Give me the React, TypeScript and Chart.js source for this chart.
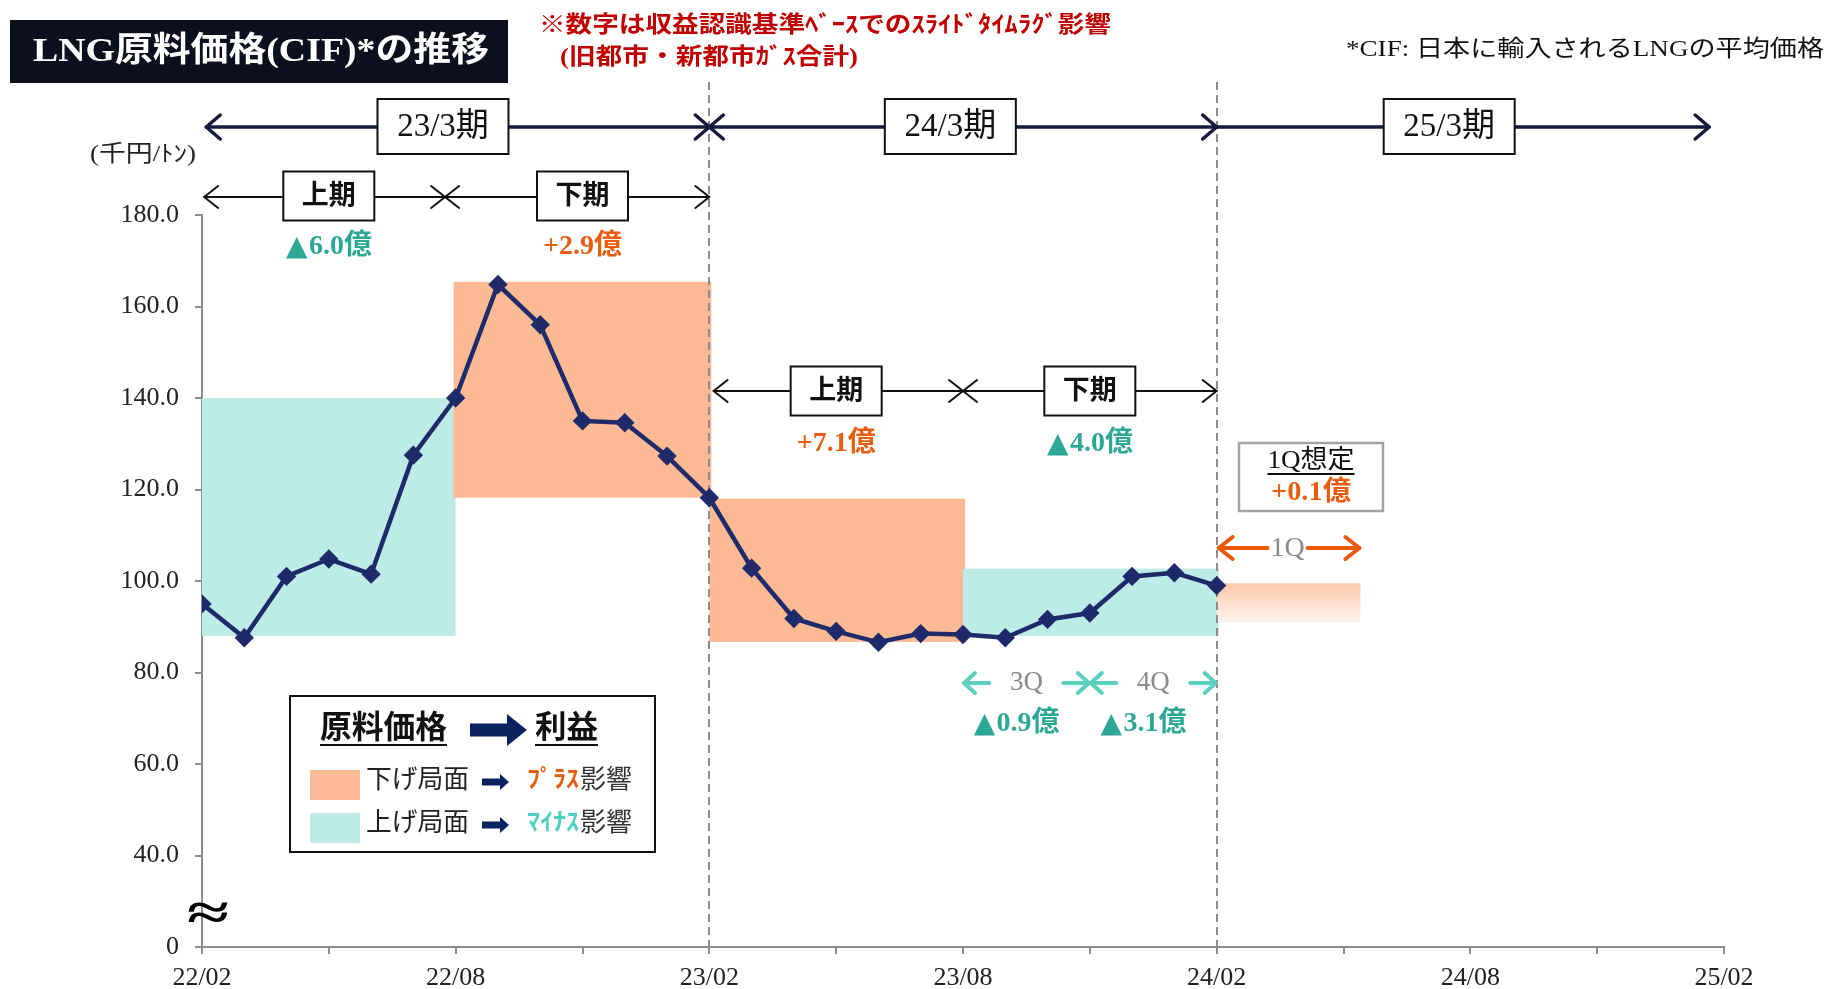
import React, { useEffect, useRef } from 'react';
import { Chart, registerables } from 'chart.js';

Chart.register(...registerables);

// ---- data ----
const monthLabels = ['22/02','22/03','22/04','22/05','22/06','22/07','22/08','22/09','22/10','22/11','22/12','23/01','23/02','23/03','23/04','23/05','23/06','23/07','23/08','23/09','23/10','23/11','23/12','24/01','24/02'];
const prices = [95.0, 87.6, 101.0, 104.8, 101.5, 127.5, 140.0, 164.8, 156.0, 135.0, 134.6, 127.3, 118.2, 102.8, 91.8, 89.0, 86.6, 88.5, 88.3, 87.6, 91.6, 93.0, 101.0, 101.8, 99.0];
const xTickLabels = ['22/02','22/08','23/02','23/08','24/02','24/08','25/02'];

// slide time-lag shading (month index from 22/02)
const shadeFrom = [0, 5.95, 12, 18];
const shadeTo = [5.95, 12, 18, 24];
const shadeLow = [88.0, 118.2, 86.7, 88.0];
const shadeHigh = [140.0, 165.4, 118.0, 102.7];
const shadeKind = ['up', 'down', 'down', 'up'];
const forecastFrom = 24;
const forecastTo = 27.4;
const forecastLow = 91.0;
const forecastHigh = 99.5;

const fiscalLabels = ['23/3期', '24/3期', '25/3期'];
const fiscalFrom = [0.1, 12, 24];
const fiscalTo = [12, 24, 35.65];
const fiscalBoxCenter = [5.7, 17.7, 29.5];
const fiscalDividers = [12, 24];

const halfLabels = ['上期', '下期', '上期', '下期'];
const halfFrom = [0.05, 5.75, 12.1, 18.0];
const halfTo = [5.75, 12.0, 18.0, 24.0];
const halfCenter = [3, 9, 15, 21];
const halfImpact = ['▲6.0億', '+2.9億', '+7.1億', '▲4.0億'];

const quarterLabels = ['3Q', '4Q'];
const quarterFrom = [18, 21];
const quarterTo = [21, 24];
const quarterImpact = ['▲0.9億', '▲3.1億'];

const forecastLabel = '1Q';
const forecastImpact = '+0.1億';

// ---- styles ----
const NAVY = '#1f2a6b';
const TEAL_FILL = '#bdebe5';
const ORANGE_FILL = '#fbb994';
const TEAL_TXT = '#2ea896';
const ORANGE_TXT = '#e85d0e';
const TEAL_ARROW = '#5ccfbe';
const F = (size: number, weight = 'normal') => `${weight} ${size}px "Liberation Serif", "Noto Sans CJK JP", serif`;

function txt(ctx: CanvasRenderingContext2D, s: string, x: number, y: number, font: string, color: string, align: CanvasTextAlign = 'center', fitW?: number) {
  ctx.save();
  ctx.font = font;
  ctx.fillStyle = color;
  ctx.textBaseline = 'middle';
  const w = ctx.measureText(s).width;
  const sx = fitW ? fitW / w : 1;
  ctx.translate(x, y);
  ctx.scale(sx, 1);
  ctx.textAlign = align;
  ctx.fillText(s, 0, 0);
  ctx.restore();
  return w * sx;
}

// impact value: tight triangle glyph + number (both as text)
function impact(ctx: CanvasRenderingContext2D, s: string, cx: number, cy: number, size: number) {
  const neg = s.startsWith('▲');
  const color = neg ? TEAL_TXT : ORANGE_TXT;
  const rest = neg ? s.slice(1) : s;
  ctx.save();
  ctx.font = F(size, 'bold');
  const rw = ctx.measureText(rest).width;
  ctx.restore();
  const triW = neg ? size * 0.8 : 0;
  const gap = neg ? 1 : 0;
  const total = triW + gap + rw;
  const x0 = cx - total / 2;
  if (neg) {
    txt(ctx, '▲', x0 + triW / 2, cy + 1, `bold ${size}px "DejaVu Sans", "Noto Sans CJK JP", sans-serif`, color, 'center');
  }
  txt(ctx, rest, x0 + triW + gap, cy, F(size, 'bold'), color, 'left');
}

function head(ctx: CanvasRenderingContext2D, x: number, y: number, dir: number, len: number, half: number) {
  ctx.beginPath();
  ctx.moveTo(x - dir * len, y - half);
  ctx.lineTo(x, y);
  ctx.lineTo(x - dir * len, y + half);
  ctx.stroke();
}

function arrowLine(ctx: CanvasRenderingContext2D, x1: number, x2: number, y: number, color: string, lw: number, len: number, half: number, left = true, right = true, gapC?: number, gapHalf?: number) {
  ctx.save();
  ctx.strokeStyle = color;
  ctx.lineWidth = lw;
  ctx.lineCap = 'round';
  ctx.lineJoin = 'round';
  ctx.beginPath();
  if (gapC !== undefined && gapHalf !== undefined) {
    ctx.moveTo(x1, y); ctx.lineTo(gapC - gapHalf, y);
    ctx.moveTo(gapC + gapHalf, y); ctx.lineTo(x2, y);
  } else {
    ctx.moveTo(x1, y); ctx.lineTo(x2, y);
  }
  ctx.stroke();
  if (left) head(ctx, x1, y, -1, len, half);
  if (right) head(ctx, x2, y, 1, len, half);
  ctx.restore();
}

function boxText(ctx: CanvasRenderingContext2D, cx: number, cy: number, w: number, h: number, s: string, font: string, lw = 2, border = '#111') {
  ctx.save();
  ctx.fillStyle = '#fff';
  ctx.fillRect(cx - w / 2, cy - h / 2, w, h);
  ctx.strokeStyle = border;
  ctx.lineWidth = lw;
  ctx.strokeRect(cx - w / 2, cy - h / 2, w, h);
  ctx.restore();
  txt(ctx, s, cx, cy + 1, font, '#111');
}

function underline(ctx: CanvasRenderingContext2D, x1: number, x2: number, y: number, color: string, lw = 2) {
  ctx.save();
  ctx.strokeStyle = color;
  ctx.lineWidth = lw;
  ctx.beginPath(); ctx.moveTo(x1, y); ctx.lineTo(x2, y); ctx.stroke();
  ctx.restore();
}

function blockArrow(ctx: CanvasRenderingContext2D, x1: number, x2: number, cy: number, shaft: number, headH: number, headL: number, color: string) {
  ctx.save();
  ctx.fillStyle = color;
  ctx.beginPath();
  ctx.moveTo(x1, cy - shaft / 2);
  ctx.lineTo(x2 - headL, cy - shaft / 2);
  ctx.lineTo(x2 - headL, cy - headH / 2);
  ctx.lineTo(x2, cy);
  ctx.lineTo(x2 - headL, cy + headH / 2);
  ctx.lineTo(x2 - headL, cy + shaft / 2);
  ctx.lineTo(x1, cy + shaft / 2);
  ctx.closePath();
  ctx.fill();
  ctx.restore();
}

const annotations = {
  id: 'slideAnnotations',
  beforeDatasetsDraw(chart: any) {
    const ctx: CanvasRenderingContext2D = chart.ctx;
    const xs = chart.scales.x;
    const ys = chart.scales.y;
    ctx.save();
    for (let i = 0; i < shadeFrom.length; i++) {
      const x1 = xs.getPixelForValue(shadeFrom[i]);
      const x2 = xs.getPixelForValue(shadeTo[i]);
      const y1 = ys.getPixelForValue(shadeHigh[i]);
      const y2 = ys.getPixelForValue(shadeLow[i]);
      ctx.fillStyle = shadeKind[i] === 'up' ? TEAL_FILL : ORANGE_FILL;
      ctx.fillRect(x1, y1, x2 - x1 + 2, y2 - y1);
    }
    const fx1 = xs.getPixelForValue(forecastFrom);
    const fx2 = xs.getPixelForValue(forecastTo);
    const fy1 = ys.getPixelForValue(forecastHigh);
    const fy2 = ys.getPixelForValue(forecastLow);
    const g = ctx.createLinearGradient(0, fy1, 0, fy2);
    g.addColorStop(0, '#fcc9ab');
    g.addColorStop(1, '#fff3ec');
    ctx.fillStyle = g;
    ctx.fillRect(fx1, fy1, fx2 - fx1, fy2 - fy1);

    // dashed period dividers
    ctx.strokeStyle = '#8c8c8c';
    ctx.lineWidth = 2;
    ctx.setLineDash([8, 5]);
    for (const d of fiscalDividers) {
      const x = Math.round(xs.getPixelForValue(d));
      ctx.beginPath();
      ctx.moveTo(x, 82);
      ctx.lineTo(x, ys.bottom);
      ctx.stroke();
    }
    ctx.setLineDash([]);
    ctx.restore();
  },
  afterDatasetsDraw(chart: any) {
    const ctx: CanvasRenderingContext2D = chart.ctx;
    const xs = chart.scales.x;
    const px = (v: number) => xs.getPixelForValue(v);

    // title
    ctx.save();
    ctx.fillStyle = '#0c0f1e';
    ctx.fillRect(10, 20, 498, 63);
    ctx.restore();
    txt(ctx, 'LNG原料価格(CIF)*の推移', 261, 52, F(34, 'bold'), '#ffffff', 'center', 456);

    // red notes
    txt(ctx, '※数字は収益認識基準ﾍﾞｰｽでのｽﾗｲﾄﾞﾀｲﾑﾗｸﾞ影響', 539, 26, F(23, 'bold'), '#c00000', 'left', 572);
    txt(ctx, '(旧都市・新都市ｶﾞｽ合計)', 560, 58, F(23, 'bold'), '#c00000', 'left', 298);
    txt(ctx, '*CIF: 日本に輸入されるLNGの平均価格', 1824, 50, F(23), '#111', 'right', 478);
    txt(ctx, '(千円/ﾄﾝ)', 90, 155, F(23), '#222', 'left', 106);

    // fiscal year arrows
    for (let i = 0; i < fiscalLabels.length; i++) {
      arrowLine(ctx, px(fiscalFrom[i]), px(fiscalTo[i]), 127, '#161b3d', 3.5, 14, 12, i === 0 || i === 1, true);
    }
    for (let i = 0; i < fiscalLabels.length; i++) {
      boxText(ctx, px(fiscalBoxCenter[i]), 126.5, 131, 55, fiscalLabels[i], F(33));
    }

    // half-year arrows
    for (let i = 0; i < halfLabels.length; i++) {
      const y = i < 2 ? 197 : 391;
      arrowLine(ctx, px(halfFrom[i]), px(halfTo[i]), y, '#111', 2, 14, 11);
    }
    for (let i = 0; i < halfLabels.length; i++) {
      const y = i < 2 ? 196 : 391;
      boxText(ctx, px(halfCenter[i]), y, 91, 49, halfLabels[i], F(27, 'bold'));
      const vy = i < 2 ? 247 : 444;
      impact(ctx, halfImpact[i], px(halfCenter[i]), vy, 28);
    }

    // quarter arrows
    for (let i = 0; i < quarterLabels.length; i++) {
      const a = px(quarterFrom[i]);
      const b = px(quarterTo[i]);
      const c = (a + b) / 2;
      arrowLine(ctx, a + 1, b - 1, 683, TEAL_ARROW, 4, 11, 10, true, true, c, 37);
      txt(ctx, quarterLabels[i], c, 683, F(27), '#8a8a8a');
      impact(ctx, quarterImpact[i], c - 10, 724, 28);
    }

    // forecast 1Q
    const f1 = px(forecastFrom);
    const f2 = px(forecastTo);
    const fc = (f1 + f2) / 2;
    arrowLine(ctx, f1 + 2, f2 - 1, 548, '#e8590c', 4, 14, 11, true, true, fc - 1, 20);
    txt(ctx, forecastLabel, fc - 1, 549, F(28), '#8a8a8a');
    ctx.save();
    ctx.fillStyle = '#fff';
    ctx.fillRect(1239, 443, 144, 68);
    ctx.strokeStyle = '#a3a3a3';
    ctx.lineWidth = 2.5;
    ctx.strokeRect(1239, 443, 144, 68);
    ctx.restore();
    const w1 = txt(ctx, '1Q想定', 1311, 461, F(26), '#111', 'center', 87);
    underline(ctx, 1311 - w1 / 2, 1311 + w1 / 2, 474, '#111', 1.8);
    txt(ctx, forecastImpact, 1311, 493, F(27, 'bold'), ORANGE_TXT, 'center', 80);

    // axis break mark
    txt(ctx, '≈', 208, 916, F(50, 'bold'), '#000', 'center', 42);

    // legend
    ctx.save();
    ctx.fillStyle = '#fff';
    ctx.fillRect(290, 696, 365, 156);
    ctx.strokeStyle = '#111';
    ctx.lineWidth = 2;
    ctx.strokeRect(290, 696, 365, 156);
    ctx.restore();
    const lw1 = txt(ctx, '原料価格', 320, 730, F(32, 'bold'), '#111', 'left', 127);
    underline(ctx, 320, 320 + lw1, 745, '#111', 2);
    blockArrow(ctx, 470, 527, 730, 13, 32, 20, '#0b2260');
    const lw2 = txt(ctx, '利益', 535, 730, F(32, 'bold'), '#111', 'left', 63);
    underline(ctx, 535, 535 + lw2, 745, '#111', 2);

    ctx.save();
    ctx.fillStyle = ORANGE_FILL;
    ctx.fillRect(310, 770, 50, 30);
    ctx.fillStyle = TEAL_FILL;
    ctx.fillRect(310, 813, 50, 30);
    ctx.restore();
    txt(ctx, '下げ局面', 366, 781, F(26), '#222', 'left', 103);
    txt(ctx, '上げ局面', 366, 824, F(26), '#222', 'left', 103);
    blockArrow(ctx, 482, 509, 782, 7, 16, 9, '#0b2260');
    blockArrow(ctx, 482, 509, 825, 7, 16, 9, '#0b2260');
    txt(ctx, 'ﾌﾟﾗｽ', 527, 781, F(24, 'bold'), ORANGE_TXT, 'left', 52);
    txt(ctx, '影響', 580, 781, F(26), '#333', 'left', 52);
    txt(ctx, 'ﾏｲﾅｽ', 527, 824, F(24, 'bold'), '#4fcfbf', 'left', 52);
    txt(ctx, '影響', 580, 824, F(26), '#333', 'left', 52);
  },
};

export default function App() {
  const ref = useRef<HTMLCanvasElement>(null);
  useEffect(() => {
    if (!ref.current) return;
    const chart = new Chart(ref.current, {
      type: 'line',
      data: {
        labels: monthLabels,
        datasets: [{
          data: prices.map((v, i) => ({ x: i, y: v })),
          borderColor: NAVY,
          backgroundColor: NAVY,
          borderWidth: 4.5,
          pointStyle: 'rectRot',
          pointRadius: 6.5,
          pointBackgroundColor: NAVY,
          pointBorderColor: NAVY,
          tension: 0,
        }],
      },
      options: {
        responsive: false,
        animation: false,
        layout: { padding: { top: 215, right: 103, left: 0, bottom: 0 } },
        plugins: { legend: { display: false }, tooltip: { enabled: false } },
        scales: {
          x: {
            type: 'linear',
            min: 0,
            max: 36,
            afterFit: (s: any) => { s.height = 42; },
            ticks: {
              stepSize: 3,
              autoSkip: false,
              maxRotation: 0,
              padding: 9,
              color: '#222',
              font: { family: '"Liberation Serif", serif', size: 26 },
              callback: (v: any) => (Number(v) % 6 === 0 ? xTickLabels[Number(v) / 6] : ''),
            },
            grid: { display: true, drawOnChartArea: false, drawTicks: true, tickLength: 7, color: '#8c8c8c', lineWidth: 2 },
            border: { display: true, color: '#8c8c8c', width: 2 },
          },
          y: {
            min: 20,
            max: 180,
            afterFit: (s: any) => { s.width = 202; },
            ticks: {
              stepSize: 20,
              padding: 16,
              color: '#222',
              font: { family: '"Liberation Serif", serif', size: 26 },
              callback: (v: any) => (Number(v) === 20 ? '0' : Number(v).toFixed(1)),
            },
            grid: { display: true, drawOnChartArea: false, drawTicks: true, tickLength: 7, color: '#8c8c8c', lineWidth: 2 },
            border: { display: true, color: '#8c8c8c', width: 2 },
          },
        },
      },
      plugins: [annotations],
    });
    return () => chart.destroy();
  }, []);
  return (
    <div style={{ position: 'fixed', left: 0, top: 0, width: 1827, height: 989, background: '#fff' }}>
      <canvas ref={ref} width={1827} height={989} />
    </div>
  );
}
